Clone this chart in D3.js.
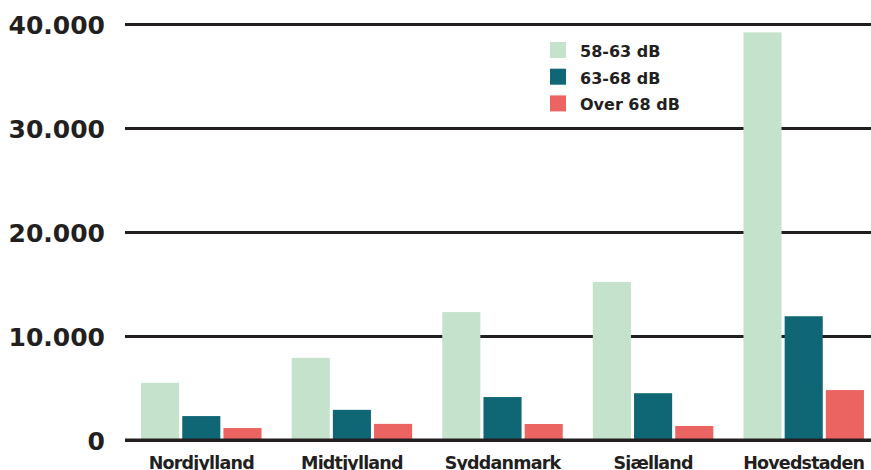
<!DOCTYPE html>
<html>
<head>
<meta charset="utf-8">
<script src="https://cdn.jsdelivr.net/npm/d3@7"></script>
<style>
  html, body { margin: 0; padding: 0; background: #fff; }
  svg { display: block; }
  text { font-family: "DejaVu Sans", sans-serif; font-weight: bold; fill: #231f20; }
</style>
</head>
<body>
<svg id="chart" width="871" height="470"></svg>
<script>
// Regions and noise-band values (number of dwellings)
const regions = ["Nordjylland", "Midtjylland", "Syddanmark", "Sjælland", "Hovedstaden"];
const bands = ["58-63 dB", "63-68 dB", "Over 68 dB"];
const band58to63 = [5500, 7900, 12300, 15200, 39200];
const band63to68 = [2300, 2900, 4130, 4500, 11900];
const bandOver68 = [1150, 1550, 1540, 1350, 4800];
const yTicks = [0, 10000, 20000, 30000, 40000];
const colors = ["#c5e3cc", "#0f6674", "#ec6461"];

const seriesValues = [band58to63, band63to68, bandOver68];
const rows = regions.map((r, i) => ({ region: r, values: bands.map((b, j) => ({ band: b, value: seriesValues[j][i] })) }));

const svg = d3.select("#chart");
const W = 871, left = 125;

const y = d3.scaleLinear().domain([0, 40000]).range([440, 24]);
const x0 = d3.scaleBand().domain(regions).range([126, 879]).paddingInner(0.2).paddingOuter(0.1);
const x1 = d3.scaleBand().domain(bands).range([0, x0.bandwidth()]).paddingInner(0.075);
const color = d3.scaleOrdinal().domain(bands).range(colors);

const fmt = v => d3.format(",")(v).replace(/,/g, ".");

// Horizontal gridlines with tick labels
const yAxis = d3.axisLeft(y).tickValues(yTicks).tickSize(0).tickFormat(fmt).tickPadding(20);
const gy = svg.append("g").attr("transform", `translate(${left},0)`).call(yAxis);
gy.select(".domain").remove();
gy.selectAll(".tick line").attr("x1", 0).attr("x2", W - left)
  .attr("stroke", "#231f20").attr("stroke-width", 3);
gy.selectAll(".tick text").attr("font-size", 25).attr("dy", "0.36em")
  .style("font-family", '"DejaVu Sans", sans-serif').style("font-weight", "bold").attr("fill", "#231f20");

// Grouped bars
const groups = svg.append("g").selectAll("g").data(rows).join("g")
  .attr("transform", d => `translate(${x0(d.region)},0)`);
groups.selectAll("rect").data(d => d.values).join("rect")
  .attr("x", d => x1(d.band))
  .attr("width", x1.bandwidth())
  .attr("y", d => y(d.value))
  .attr("height", d => y(0) - y(d.value))
  .attr("fill", d => color(d.band));

// Baseline redrawn over bars
svg.append("line").attr("x1", left).attr("x2", W).attr("y1", y(0)).attr("y2", y(0))
  .attr("stroke", "#231f20").attr("stroke-width", 3);

// Region labels
const xAxis = d3.axisBottom(x0).tickSize(0).tickPadding(0);
const gx = svg.append("g").attr("transform", "translate(0,469)").call(xAxis);
gx.select(".domain").remove();
gx.selectAll(".tick text").attr("y", 0).attr("dy", 0).attr("font-size", 17.5)
  .attr("letter-spacing", -0.8)
  .style("font-family", '"DejaVu Sans", sans-serif').style("font-weight", "bold").attr("fill", "#231f20");

// Legend
const legend = svg.append("g").attr("transform", "translate(550,42)");
const li = legend.selectAll("g").data(bands).join("g").attr("transform", (d, i) => `translate(0,${i * 26.7})`);
li.append("rect").attr("width", 16).attr("height", 16).attr("fill", d => color(d));
li.append("text").attr("x", 30).attr("y", 15).attr("font-size", 16).text(d => d);
</script>
</body>
</html>
